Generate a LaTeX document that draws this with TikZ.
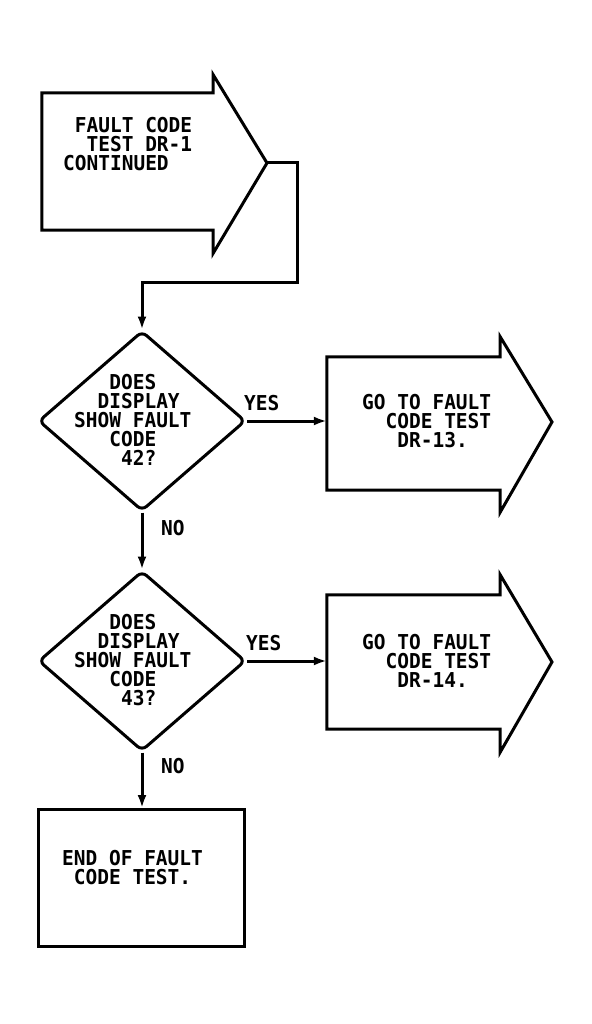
\documentclass[tikz,border=0pt]{standalone}
\usepackage{fontspec}
\newfontfamily\plotfont[FakeStretch=0.95]{DejaVu Sans Mono Bold}
\usetikzlibrary{shapes.geometric,arrows.meta}

\begin{document}
\begin{tikzpicture}[
    x=1pt, y=-1pt,
    outline/.style={draw, line width=3pt, line join=miter},
    arrowbody/.style={rectangle, minimum width=173pt, minimum height=134pt, inner sep=0pt},
    decision/.style={diamond, draw, line width=3pt, rounded corners=6pt,
        minimum width=207pt, minimum height=180pt, inner sep=0pt},
    stopbox/.style={rectangle, draw, line width=3pt, minimum width=206pt,
        minimum height=137pt, inner sep=0pt},
    words/.style={font=\plotfont\fontsize{20.5}{19}\selectfont, align=left,
        inner sep=0pt, anchor=north west},
    flow/.style={draw, line width=3pt, -{Latex[length=13pt,width=9pt]}},
    ]
    \useasboundingbox (0,0) rectangle (591,1024);

    % entry arrow
    \node[arrowbody, minimum width=171pt, minimum height=137pt] (cont) at (127.5,161.5) {};
    \coordinate (conttip) at (267,163);
    \draw[outline] (cont.north east) -- (cont.north west) -- (cont.south west)
        -- (cont.south east) -- ([yshift=-23pt]cont.south east) -- (conttip)
        -- ([yshift=18pt]cont.north east) -- cycle;
    \node[words] (conttxt) at (63,117) {\ FAULT CODE\\\ \ TEST DR-1\\CONTINUED};

    % decisions
    \node[decision] (q1) at (142,421) {};
    \node[words] (q1txt) at (74,374) {\ \ \ DOES\\\ \ DISPLAY\\SHOW FAULT\\\ \ \ CODE\\\ \ \ \ 42?};
    \node[decision] (q2) at (142,661) {};
    \node[words] (q2txt) at (74,614) {\ \ \ DOES\\\ \ DISPLAY\\SHOW FAULT\\\ \ \ CODE\\\ \ \ \ 43?};

    % exit arrows
    \node[arrowbody, minimum height=133pt] (go13) at (413.5,423.5) {};
    \coordinate (go13tip) at (552,422);
    \draw[outline] (go13.north east) -- (go13.north west) -- (go13.south west)
        -- (go13.south east) -- ([yshift=-22pt]go13.south east) -- (go13tip)
        -- ([yshift=20pt]go13.north east) -- cycle;
    \node[words] (go13txt) at (362,394) {GO TO FAULT\\\ \ CODE TEST\\\ \ \ DR-13.};

    \node[arrowbody] (go14) at (413.5,662) {};
    \coordinate (go14tip) at (552,662);
    \draw[outline] (go14.north east) -- (go14.north west) -- (go14.south west)
        -- (go14.south east) -- ([yshift=-23pt]go14.south east) -- (go14tip)
        -- ([yshift=20pt]go14.north east) -- cycle;
    \node[words] (go14txt) at (362,634) {GO TO FAULT\\\ \ CODE TEST\\\ \ \ DR-14.};

    % end
    \node[stopbox] (stop) at (141,878) {};
    \node[words] (stoptxt) at (62,850) {END OF FAULT\\\ CODE TEST.};

    % connectors
    \coordinate (turn) at (297,282);
    \draw[flow] (conttip) -| (turn) -| (q1.north);
    \draw[flow] (q1.east) -- (q1.east -| go13.west);
    \draw[flow] (q1.south) -- (q2.north);
    \draw[flow] (q2.east) -- (q2.east -| go14.west);
    \draw[flow] (q2.south) -- (q2.south |- stop.north);

    % answers
    \node[words] (yes1) at (244,395) {YES};
    \node[words] (no1) at (161,520) {NO};
    \node[words] (yes2) at (246,635) {YES};
    \node[words] (no2) at (161,758) {NO};

\end{tikzpicture}
\end{document}
